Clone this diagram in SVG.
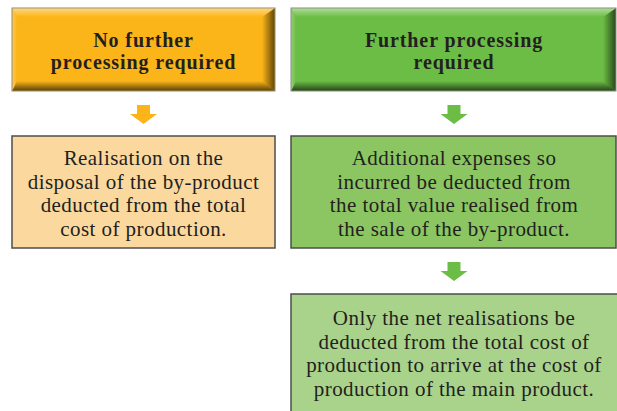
<svg xmlns="http://www.w3.org/2000/svg" width="617" height="411" viewBox="0 0 617 411">
<style>
.hd{font-family:"Liberation Serif","Times New Roman",serif;font-weight:bold;font-size:20px;letter-spacing:0.9px;fill:#231f20;text-anchor:middle}
.tx{font-family:"Liberation Serif","Times New Roman",serif;font-size:21px;letter-spacing:0.45px;fill:#231f20;text-anchor:middle}
.bx{stroke:#4d4d4d;stroke-width:1.5}
</style>
<defs>
<linearGradient id="gTop" x1="0" y1="0" x2="0" y2="1"><stop offset="0" stop-color="#fff" stop-opacity="0.45"/><stop offset="1" stop-color="#fff" stop-opacity="0"/></linearGradient>
<linearGradient id="gBot" x1="0" y1="0" x2="0" y2="1"><stop offset="0" stop-color="#000" stop-opacity="0"/><stop offset="1" stop-color="#000" stop-opacity="0.62"/></linearGradient>
<linearGradient id="gRight" x1="0" y1="0" x2="1" y2="0"><stop offset="0" stop-color="#000" stop-opacity="0"/><stop offset="1" stop-color="#000" stop-opacity="0.6"/></linearGradient>
<linearGradient id="gLeft" x1="0" y1="0" x2="1" y2="0"><stop offset="0" stop-color="#fff" stop-opacity="0.25"/><stop offset="1" stop-color="#fff" stop-opacity="0"/></linearGradient>
</defs>

<g id="node-no-further">
<rect x="12" y="8" width="263" height="83" fill="#fbb518" stroke="#8a8a8a" stroke-width="1"/>
<polygon points="12.5,8.5 274.5,8.5 262,17 17,17" fill="url(#gTop)"/>
<polygon points="12.5,8.5 17,17 17,81 12.5,90.5" fill="url(#gLeft)"/>
<polygon points="17,81 262,81 274.5,90.5 12.5,90.5" fill="url(#gBot)"/>
<polygon points="262,17 274.5,8.5 274.5,90.5 262,81" fill="url(#gRight)"/>
<text class="hd" x="143.5" y="46.5">No further</text>
<text class="hd" x="143.5" y="68.5">processing required</text>
</g>

<g id="node-further">
<rect x="291" y="8" width="325" height="83" fill="#6cbd45" stroke="#8a8a8a" stroke-width="1"/>
<polygon points="291.5,8.5 615.5,8.5 603,17 296,17" fill="url(#gTop)"/>
<polygon points="291.5,8.5 296,17 296,81 291.5,90.5" fill="url(#gLeft)"/>
<polygon points="296,81 603,81 615.5,90.5 291.5,90.5" fill="url(#gBot)"/>
<polygon points="603,17 615.5,8.5 615.5,90.5 603,81" fill="url(#gRight)"/>
<text class="hd" x="454" y="46.5">Further processing</text>
<text class="hd" x="454" y="68.5">required</text>
</g>

<g id="node-realisation">
<rect class="bx" x="12" y="136" width="263" height="112" fill="#fbd99e"/>
<text class="tx" x="143.5" y="165">Realisation on the</text>
<text class="tx" x="143.5" y="188.5">disposal of the by-product</text>
<text class="tx" x="143.5" y="212">deducted from the total</text>
<text class="tx" x="143.5" y="235.5">cost of production.</text>
</g>

<g id="node-additional">
<rect class="bx" x="291" y="136" width="325" height="112" fill="#8bc662"/>
<text class="tx" x="454" y="165">Additional expenses so</text>
<text class="tx" x="454" y="188.5">incurred be deducted from</text>
<text class="tx" x="454" y="212">the total value realised from</text>
<text class="tx" x="454" y="235.5">the sale of the by-product.</text>
</g>

<g id="node-net">
<rect class="bx" x="291" y="294" width="330" height="125" fill="#a9d38a"/>
<text class="tx" x="454" y="325">Only the net realisations be</text>
<text class="tx" x="454" y="348.5">deducted from the total cost of</text>
<text class="tx" x="454" y="372">production to arrive at the cost of</text>
<text class="tx" x="454" y="395.5">production of the main product.</text>
</g>

<g id="connectors">
<polygon points="137,105 150,105 150,114 157,114 143.5,124 130,114 137,114" fill="#fbb518"/>
<polygon points="447.5,105 460.5,105 460.5,114 467.5,114 454,124 440.5,114 447.5,114" fill="#6cbd45"/>
<polygon points="447.5,262 460.5,262 460.5,271 467.5,271 454,281 440.5,271 447.5,271" fill="#6cbd45"/>
</g>
</svg>
